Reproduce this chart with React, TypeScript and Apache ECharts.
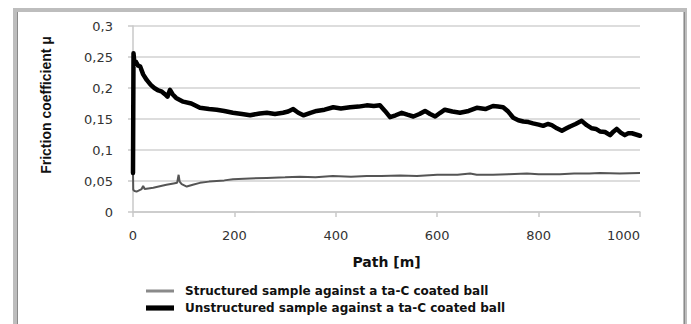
import React, { useEffect, useRef } from "react";
import * as echarts from "echarts";

const seriesNames = [
  "Structured sample against a ta-C coated ball",
  "Unstructured sample against a ta-C coated ball",
];

const xAxisTitle = "Path [m]";
const yAxisTitle = "Friction coefficient μ";

const xTicks = [0, 200, 400, 600, 800, 1000];
const yTicks = [0, 0.05, 0.1, 0.15, 0.2, 0.25, 0.3];

// [path in m, friction coefficient]
const structuredData: [number, number][] = [
  [0, 0.063], [0.5, 0.036], [3, 0.034], [7, 0.033], [12, 0.035], [17, 0.037],
  [20, 0.042], [23, 0.037], [30, 0.038], [40, 0.039], [55, 0.042], [66, 0.044],
  [80, 0.046], [87, 0.047], [90, 0.06], [92, 0.049], [96, 0.045], [106, 0.041],
  [118, 0.044], [132, 0.047], [150, 0.049], [165, 0.05], [180, 0.051], [197, 0.053],
  [230, 0.054], [264, 0.055], [300, 0.056], [329, 0.057], [360, 0.056], [394, 0.058],
  [430, 0.057], [461, 0.058], [490, 0.058], [527, 0.059], [560, 0.058], [600, 0.06],
  [640, 0.06], [665, 0.062], [678, 0.06], [710, 0.06], [740, 0.061], [777, 0.062],
  [800, 0.061], [842, 0.061], [870, 0.062], [900, 0.062], [921, 0.063], [960, 0.062],
  [1000, 0.063],
];

const unstructuredData: [number, number][] = [
  [0, 0.063], [1, 0.256], [3, 0.238], [6, 0.242], [10, 0.236], [14, 0.235],
  [20, 0.222], [27, 0.213], [35, 0.205], [42, 0.2], [50, 0.196], [57, 0.194],
  [63, 0.19], [68, 0.186], [73, 0.197], [78, 0.19], [85, 0.184], [99, 0.178],
  [115, 0.175], [132, 0.168], [150, 0.166], [165, 0.165], [180, 0.163], [197, 0.16],
  [215, 0.158], [231, 0.156], [250, 0.159], [264, 0.16], [280, 0.158], [296, 0.16],
  [306, 0.162], [316, 0.166], [326, 0.16], [336, 0.156], [350, 0.16], [362, 0.163],
  [378, 0.165], [395, 0.169], [410, 0.167], [428, 0.169], [445, 0.17], [461, 0.172],
  [475, 0.171], [487, 0.172], [497, 0.163], [507, 0.153], [518, 0.156], [530, 0.16],
  [541, 0.157], [553, 0.154], [565, 0.158], [576, 0.163], [586, 0.158], [596, 0.154],
  [606, 0.16], [615, 0.165], [630, 0.162], [645, 0.16], [662, 0.163], [678, 0.168],
  [695, 0.166], [710, 0.171], [720, 0.17], [730, 0.169], [740, 0.162], [750, 0.152],
  [760, 0.148], [770, 0.146], [780, 0.145], [789, 0.143], [800, 0.141], [809, 0.139],
  [818, 0.142], [826, 0.14], [836, 0.135], [846, 0.131], [855, 0.135], [862, 0.138],
  [873, 0.142], [885, 0.147], [895, 0.14], [905, 0.135], [913, 0.134], [921, 0.13],
  [931, 0.129], [941, 0.124], [948, 0.13], [954, 0.134], [962, 0.128], [970, 0.124],
  [977, 0.127], [984, 0.127], [992, 0.125], [1000, 0.123],
];

const FONT = "Liberation Sans, Arial, sans-serif";
const WIDE = "DejaVu Sans, sans-serif";

export default function App() {
  const ref = useRef<HTMLDivElement>(null);

  useEffect(() => {
    if (!ref.current) return;
    const chart = echarts.init(ref.current, undefined, { renderer: "svg" });
    const yStep = yTicks[1] - yTicks[0];
    const xStep = xTicks[1] - xTicks[0];
    chart.setOption({
      animation: false,
      backgroundColor: "#ffffff",
      textStyle: { fontFamily: FONT },
      graphic: [
        {
          type: "rect",
          shape: { x: 15, y: 10, width: 670, height: 340 },
          style: { fill: "none", stroke: "#bdbdbd", lineWidth: 4 },
          silent: true,
        },
        {
          type: "line",
          shape: { x1: 17.5, y1: 12, x2: 17.5, y2: 330 },
          style: { stroke: "#8a8a8a", lineWidth: 1 },
          silent: true,
        },
        {
          type: "line",
          shape: { x1: 684.5, y1: 12, x2: 684.5, y2: 330 },
          style: { stroke: "#8a8a8a", lineWidth: 1 },
          silent: true,
        },
      ],
      grid: { left: 133, right: 51, top: 26, bottom: 112, containLabel: false },
      legend: {
        orient: "vertical",
        left: 141,
        top: 280,
        itemWidth: 28,
        itemHeight: 6,
        itemGap: 5,
        data: [
          {
            name: seriesNames[0],
            icon: "path://M0,0L0.01,0L0,0.01ZM28,6L27.99,6L28,5.99ZM0,1.6H28V4.4H0Z",
            itemStyle: { color: "#8a8a8a" },
          },
          {
            name: seriesNames[1],
            icon: "path://M0,0.4H28V5.6H0Z",
            itemStyle: { color: "#000000" },
          },
        ],
        textStyle: {
          fontFamily: WIDE,
          fontSize: 12,
          fontWeight: "bold",
          color: "#111",
          padding: [0, 0, 0, 6],
        },
      },
      xAxis: {
        type: "value",
        min: xTicks[0],
        max: xTicks[xTicks.length - 1],
        interval: xStep,
        name: xAxisTitle,
        nameLocation: "middle",
        nameGap: 43,
        nameTextStyle: { fontFamily: WIDE, fontSize: 14, fontWeight: "bold", color: "#111" },
        axisLine: { show: true, lineStyle: { color: "#c8c8c8", width: 1.5 } },
        axisTick: { show: true, length: 5, lineStyle: { color: "#c8c8c8", width: 1.5 } },
        axisLabel: {
          fontFamily: WIDE,
          fontSize: 13,
          color: "#333",
          margin: 17,
          alignMaxLabel: "right",
          formatter: (v: number) => String(v),
        },
        splitLine: { show: false },
      },
      yAxis: {
        type: "value",
        min: yTicks[0],
        max: yTicks[yTicks.length - 1],
        interval: yStep,
        name: yAxisTitle,
        nameLocation: "middle",
        nameGap: 80,
        nameRotate: 90,
        nameTextStyle: {
          fontFamily: FONT,
          fontSize: 14,
          fontWeight: "bold",
          color: "#111",
          padding: [0, 0, 0, 28],
        },
        axisLine: { show: true, lineStyle: { color: "#c8c8c8", width: 1.5 } },
        axisTick: { show: true, length: 5, lineStyle: { color: "#c8c8c8", width: 1.5 } },
        axisLabel: {
          fontFamily: WIDE,
          fontSize: 13,
          color: "#333",
          margin: 20,
          formatter: (v: number) => String(parseFloat(v.toFixed(2))).replace(".", ","),
        },
        splitLine: { show: true, lineStyle: { color: "#d2d2d2", width: 1.5 } },
      },
      series: [
        {
          name: seriesNames[0],
          type: "line",
          data: structuredData,
          symbol: "none",
          lineStyle: { color: "#555555", width: 2 },
          itemStyle: { color: "#8a8a8a" },
          z: 3,
        },
        {
          name: seriesNames[1],
          type: "line",
          data: unstructuredData,
          symbol: "none",
          lineStyle: { color: "#000000", width: 4.5, join: "round", cap: "round" },
          itemStyle: { color: "#000000" },
          z: 4,
        },
      ],
    });
    return () => chart.dispose();
  }, []);

  return (
    <div
      ref={ref}
      style={{ position: "fixed", left: 0, top: 0, width: 691, height: 324, background: "#fff" }}
    />
  );
}
